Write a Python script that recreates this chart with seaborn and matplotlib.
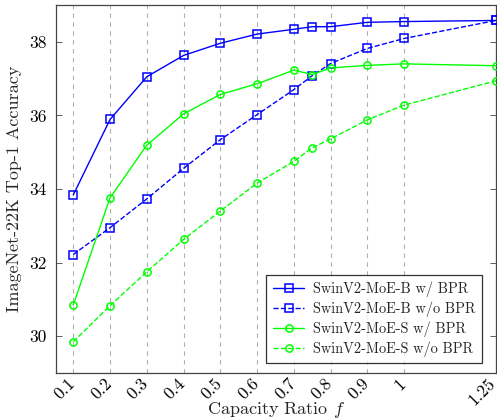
import numpy as np
import pandas as pd
import matplotlib
matplotlib.use("Agg")
import matplotlib.pyplot as plt
import matplotlib.transforms as mtransforms
import seaborn as sns

# =====================================================
# Data
# =====================================================
capacity = [0.1, 0.2, 0.3, 0.4, 0.5, 0.6, 0.7, 0.75, 0.8, 0.9, 1.0, 1.25]
tick_vals = [0.1, 0.2, 0.3, 0.4, 0.5, 0.6, 0.7, 0.8, 0.9, 1.0, 1.25]
tick_labels = ["0.1", "0.2", "0.3", "0.4", "0.5", "0.6", "0.7", "0.8", "0.9", "1", "1.25"]

b_bpr = [33.84, 35.89, 37.05, 37.63, 37.96, 38.21, 38.34, 38.41, 38.41, 38.53, 38.55, 38.58]
b_nobpr = [32.22, 32.95, 33.73, 34.56, 35.34, 36.02, 36.70, 37.08, 37.41, 37.82, 38.09, 38.58]
s_bpr = [30.85, 33.76, 35.19, 36.04, 36.57, 36.86, 37.23, 37.11, 37.29, 37.36, 37.40, 37.35]
s_nobpr = [29.85, 30.83, 31.75, 32.63, 33.40, 34.16, 34.75, 35.12, 35.36, 35.88, 36.28, 36.94]

series = [
    ("SwinV2-MoE-B w/ BPR", b_bpr, "#0000ff", "s", "-"),
    ("SwinV2-MoE-B w/o BPR", b_nobpr, "#0000ff", "s", "--"),
    ("SwinV2-MoE-S w/ BPR", s_bpr, "#00ff00", "o", "-"),
    ("SwinV2-MoE-S w/o BPR", s_nobpr, "#00ff00", "o", "--"),
]

# =====================================================
# Style
# =====================================================
sns.set_style("ticks")
plt.rcParams["font.family"] = "serif"
plt.rcParams["font.serif"] = ["cmr10", "DejaVu Serif"]
plt.rcParams["mathtext.fontset"] = "cm"
plt.rcParams["axes.formatter.use_mathtext"] = True

fig = plt.figure(figsize=(4.97, 4.18), dpi=100)
ax = fig.add_axes([56 / 497, 45 / 418, 440 / 497, 368 / 418])

for name, vals, color, marker, ls in series:
    df = pd.DataFrame({"f": capacity, "acc": vals})
    sns.lineplot(
        data=df, x="f", y="acc", ax=ax,
        color=color, marker=marker, linestyle=ls,
        linewidth=1.0, markersize=5.2, markerfacecolor="none",
        markeredgecolor=color, markeredgewidth=1.1,
        dashes=False if ls == "-" else (3, 3),
        label=name, clip_on=False, zorder=3,
    )

ax.set_xlim(0.053, 1.25)
ax.set_ylim(29, 39)
ax.set_xticks(tick_vals)
ax.set_xticklabels(tick_labels, rotation=45, ha="right", rotation_mode="anchor", fontsize=12.5)
ax.set_yticks([30, 32, 34, 36, 38])
ax.set_yticklabels(["30", "32", "34", "36", "38"], fontsize=12.5)
ax.tick_params(axis="y", direction="in", length=4, width=0.6, right=True, pad=7,
               colors="#444444", labelcolor="black")
ax.tick_params(axis="x", length=0, pad=2, labelcolor="black")
ax.xaxis.grid(True, linestyle=(0, (4, 4)), color="#b0b0b0", linewidth=0.8)
ax.yaxis.grid(False)
for sp in ax.spines.values():
    sp.set_color("#444444")
    sp.set_linewidth(0.9)
    sp.set_visible(True)

# pgfplots-like anchoring: rotated label ends at the tick
labels = ax.get_xticklabels()
for i, lab in enumerate(labels):
    dx = -8 if i == len(labels) - 1 else -6
    lab.set_transform(lab.get_transform() + mtransforms.ScaledTranslation(dx / 100, 0, fig.dpi_scale_trans))

ax.set_xlabel("Capacity Ratio $f$", fontsize=13)
ax.xaxis.set_label_coords(0.5, -0.073)
ax.set_ylabel("ImageNet-22K Top-1 Accuracy", fontsize=13, labelpad=5)

leg = ax.legend(loc="lower right", bbox_to_anchor=(0.968, 0.027), borderaxespad=0,
                fontsize=10.3, frameon=True, fancybox=False, edgecolor="black",
                handlelength=2.2, borderpad=0.45, labelspacing=0.3, handletextpad=0.6)
leg.get_frame().set_linewidth(0.9)

fig.savefig("out.png", dpi=100)
